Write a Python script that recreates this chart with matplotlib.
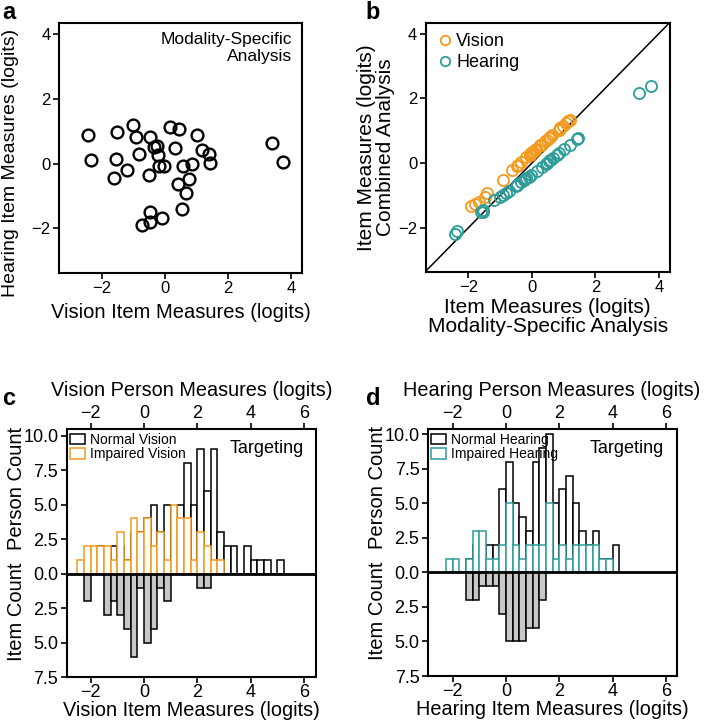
import numpy as np
import matplotlib
matplotlib.use("Agg")
import matplotlib.pyplot as plt
from matplotlib.patches import Patch

plt.rcParams['font.family'] = ['Liberation Sans', 'DejaVu Sans']

ORANGE = '#F39A1F'
TEAL = '#2E9C99'

# ---------------- Panel a / b data ----------------
vision_items = [-2.42, -2.35, -1.53, -1.54, -1.61, -1.19, -1.00, -0.92, -0.83, -0.47,
                -0.35, -0.24, -0.21, -0.49, -0.18, -0.02, 0.15, 0.46, 0.32, 1.02,
                1.19, 1.41, 1.44, 0.86, 0.58, 0.78, 0.43, 0.68, 0.54, -0.47,
                -0.47, -0.72, -0.09, 3.39, 3.74]
hearing_items = [0.89, 0.11, 0.98, 0.14, -0.43, -0.18, 1.19, 0.84, 0.30, 0.84,
                 0.53, 0.56, 0.27, -0.35, -0.06, -0.06, 1.14, 1.07, 0.47, 0.90,
                 0.42, 0.30, 0.01, -0.02, -0.07, -0.47, -0.62, -0.92, -1.41, -1.49,
                 -1.79, -1.91, -1.67, 0.63, 0.04]

# panel b: modality-specific (x) vs combined (y)
b_vision_x = hearing_items
b_vision_y = [1.08, 0.41, 1.15, 0.44, -0.05, 0.17, 1.33, 1.03, 0.57, 1.02,
              0.77, 0.79, 0.55, 0.02, 0.27, 0.26, 1.29, 1.23, 0.72, 1.08,
              0.68, 0.57, 0.33, 0.30, 0.26, -0.08, -0.22, -0.52, -0.92, -1.05,
              -1.28, -1.33, -1.22, 0.86, 0.35]
b_hearing_x = vision_items
b_hearing_y = [-2.20, -2.10, -1.45, -1.50, -1.52, -1.15, -1.05, -0.98, -0.92, -0.68,
               -0.60, -0.52, -0.50, -0.70, -0.47, -0.36, -0.24, 0.00, -0.12, 0.42,
               0.55, 0.75, 0.78, 0.30, 0.08, 0.25, -0.03, 0.15, 0.05, -0.68,
               -0.68, -0.88, -0.42, 2.17, 2.38]

# ---------------- Panel c data (bins of 0.25 logits) ----------------
c_start = -2.5
c_normal = [0, 1, 1, 2, 1, 2, 2, 1, 3, 3, 4, 5, 3, 5, 4, 5, 8, 5, 9, 6, 9, 3, 2, 2, 0, 2, 1, 1, 1, 0, 1]
c_impaired = [1, 2, 2, 2, 2, 1, 3, 1, 4, 3, 4, 2, 3, 1, 5, 4, 4, 1, 3, 2, 1, 1]
c_items = [0, 2, 0, 0, 3, 2, 3, 4, 6, 1, 5, 4, 1, 2, 0, 0, 0, 0, 1, 1]

# ---------------- Panel d data ----------------
d_start = -2.25
d_normal = [0, 0, 0, 1, 2, 2, 2, 2, 6, 8, 5, 4, 3, 8, 9, 10, 5, 6, 7, 5, 3, 2, 3, 1, 1, 2]
d_impaired = [1, 1, 0, 1, 3, 3, 1, 1, 2, 5, 2, 1, 2, 2, 2, 5, 1, 2, 1, 2, 2, 2, 2, 1, 1]
d_items = [0, 0, 0, 2, 2, 1, 1, 1, 3, 5, 5, 5, 4, 4, 2]

BW = 0.25
LAB = 14.5
TICK = 12

fig = plt.figure(figsize=(7.07, 7.28), dpi=100)

def style_axes(ax, ts=TICK):
    for s in ax.spines.values():
        s.set_linewidth(1.5)
    ax.tick_params(width=1.2, length=4, labelsize=ts, pad=2)

# ---------------- Panel a ----------------
axa = fig.add_axes([0.0835, 0.6254, 0.344, 0.3426])
axa.plot(vision_items, hearing_items, 'o', mfc='none', mec='black', ms=8.5, mew=1.7)
axa.set_xlim(-3.35, 4.35)
axa.set_ylim(-3.37, 4.34)
axa.set_xticks([-2, 0, 2, 4])
axa.set_yticks([-2, 0, 2, 4])
axa.set_xticklabels(['\u22122', '0', '2', '4'])
axa.set_yticklabels(['\u22122', '0', '2', '4'])
style_axes(axa)
axa.set_xlabel('Vision Item Measures (logits)', fontsize=LAB, labelpad=5)
axa.set_ylabel('Hearing Item Measures (logits)', fontsize=14)
axa.yaxis.set_label_coords(-0.165, 0.44)
axa.text(0.96, 0.965, 'Modality-Specific\nAnalysis', transform=axa.transAxes,
         ha='right', va='top', fontsize=12.5, linespacing=1.15)
fig.text(0.003, 0.998, 'a', fontsize=17, fontweight='bold', va='top', ha='left')

# ---------------- Panel b ----------------
axb = fig.add_axes([0.602, 0.6264, 0.3456, 0.3425])
axb.plot([-3.35, 4.35], [-3.35, 4.35], color='black', lw=1.1)
axb.plot(b_vision_x, b_vision_y, 'o', mfc='none', mec=ORANGE, ms=8, mew=1.3, label='Vision')
axb.plot(b_hearing_x, b_hearing_y, 'o', mfc='none', mec=TEAL, ms=8, mew=1.3, label='Hearing')
axb.set_xlim(-3.35, 4.35)
axb.set_ylim(-3.37, 4.34)
axb.set_xticks([-2, 0, 2, 4])
axb.set_yticks([-2, 0, 2, 4])
axb.set_xticklabels(['\u22122', '0', '2', '4'])
axb.set_yticklabels(['\u22122', '0', '2', '4'])
style_axes(axb)
axb.set_xlabel('Item Measures (logits)\nModality-Specific Analysis', fontsize=LAB + 0.5,
               labelpad=2, linespacing=1.0)
axb.set_ylabel('Item Measures (logits)\nCombined Analysis', fontsize=LAB + 0.5, labelpad=2,
               linespacing=1.0)
axb.legend(loc='upper left', frameon=False, fontsize=13, handletextpad=0.1,
           handlelength=1.0, borderaxespad=0.2, labelspacing=0.2, markerscale=0.85,
           bbox_to_anchor=(0.0, 1.0))
fig.text(0.517, 0.998, 'b', fontsize=17, fontweight='bold', va='top', ha='left')


def hist_panel(rect, start, normal, impaired, items, color, top_label, bot_label,
               leg_normal, leg_imp, xlim, ylim):
    ax = fig.add_axes(rect)
    xn = start + BW * np.arange(len(normal))
    xi = start + BW * np.arange(len(impaired))
    xt = start + BW * np.arange(len(items))
    ax.bar(xn, normal, width=BW, align='edge', facecolor='white', edgecolor='black',
           linewidth=1.1, zorder=2)
    ax.bar(xi, impaired, width=BW, align='edge', facecolor='white', edgecolor=color,
           linewidth=1.1, zorder=3)
    items_arr = -np.array(items, dtype=float)
    mask = items_arr != 0
    ax.bar(xt[mask], items_arr[mask], width=BW, align='edge', facecolor='#c8c8c8',
           edgecolor='black', linewidth=1.1, zorder=2)
    ax.axhline(0, color='black', lw=2, zorder=4)
    ax.set_xlim(*xlim)
    ax.set_ylim(*ylim)
    yt = [-7.5, -5, -2.5, 0, 2.5, 5, 7.5, 10]
    ax.set_yticks(yt)
    ax.set_yticklabels(['%.1f' % abs(v) for v in yt])
    xt_ticks = [-2, 0, 2, 4, 6]
    ax.set_xticks(xt_ticks)
    ax.set_xticklabels(['\u22122', '0', '2', '4', '6'])
    style_axes(ax, 13)
    ax.tick_params(top=True, labeltop=True)
    ax.tick_params(axis='x', pad=1)
    ax.set_xlabel(bot_label, fontsize=14.3, labelpad=0)
    ax.text(0.5, 1.12, top_label, transform=ax.transAxes, ha='center', va='bottom',
            fontsize=14.3)
    ax.text(-0.2, 0.763, 'Person Count', transform=ax.transAxes, rotation=90,
            ha='center', va='center', fontsize=14.5)
    ax.text(-0.2, 0.263, 'Item Count', transform=ax.transAxes, rotation=90,
            ha='center', va='center', fontsize=14.5)
    handles = [Patch(facecolor='white', edgecolor='black', linewidth=1.1),
               Patch(facecolor='white', edgecolor=color, linewidth=1.1)]
    ax.legend(handles, [leg_normal, leg_imp], loc='upper left', frameon=False,
              fontsize=10, handlelength=1.1, handleheight=0.8, handletextpad=0.3,
              borderaxespad=0.15, labelspacing=0.05, borderpad=0.1)
    ax.text(0.95, 0.955, 'Targeting', transform=ax.transAxes, ha='right', va='top',
            fontsize=13)
    return ax

axc = hist_panel([0.0943, 0.0696, 0.3527, 0.3407], c_start, c_normal, c_impaired, c_items,
                 ORANGE, 'Vision Person Measures (logits)', 'Vision Item Measures (logits)',
                 'Normal Vision', 'Impaired Vision', (-2.9, 6.45), (-7.4, 10.45))
fig.text(0.003, 0.468, 'c', fontsize=17, fontweight='bold', va='top', ha='left')

axd = hist_panel([0.605, 0.0714, 0.352, 0.339], d_start, d_normal, d_impaired, d_items,
                 TEAL, 'Hearing Person Measures (logits)', 'Hearing Item Measures (logits)',
                 'Normal Hearing', 'Impaired Hearing', (-2.94, 6.4), (-7.47, 10.36))
fig.text(0.518, 0.468, 'd', fontsize=17, fontweight='bold', va='top', ha='left')

fig.savefig('out.png', dpi=100)
